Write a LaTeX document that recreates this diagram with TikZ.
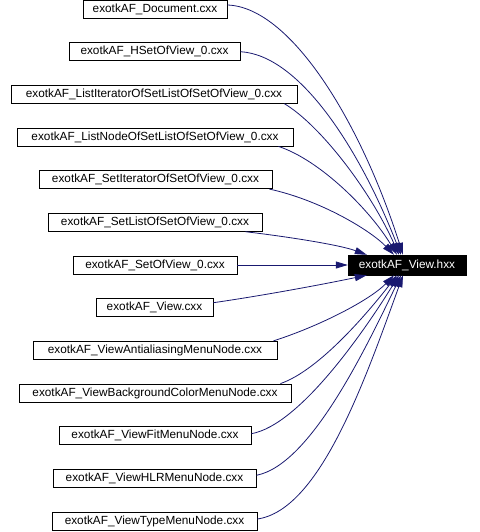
\documentclass[tikz,border=0pt]{standalone}
\usepackage{fontspec}
\setmainfont{Liberation Sans}
\usepackage{xcolor}
\usetikzlibrary{arrows.meta}

\definecolor{edgeblue}{RGB}{25,25,112}

\tikzset{
    file/.style={draw, rectangle, line width=0.8pt, minimum height=18, inner sep=0pt, font=\fontsize{11.8}{13}\selectfont},
    header/.style={draw=black, fill=black, text=white, rectangle, minimum width=118, minimum height=20, inner sep=0pt, font=\fontsize{11.8}{13}\selectfont},
    dep/.style={draw=edgeblue, line width=0.8pt, -{Triangle[length=12pt,width=7pt]}}
}

\begin{document}
\begin{tikzpicture}[x=1pt, y=-1pt]
    \useasboundingbox (0,0) rectangle (479,532);

    % Included header - positioned explicitly
    \node[header] (viewhxx) at (407,265) {exotkAF\_View.hxx};

    % Including files - one column on the left
    \node[file, minimum width=144] (doc) at (155,9) {exotkAF\_Document.cxx};
    \node[file, minimum width=171] (hset) at (154.5,51.7) {exotkAF\_HSetOfView\_0.cxx};
    \node[file, minimum width=286] (listiter) at (154,94.3) {exotkAF\_ListIteratorOfSetListOfSetOfView\_0.cxx};
    \node[file, minimum width=276] (listnode) at (155,137) {exotkAF\_ListNodeOfSetListOfSetOfView\_0.cxx};
    \node[file, minimum width=233] (setiter) at (155.5,179.7) {exotkAF\_SetIteratorOfSetOfView\_0.cxx};
    \node[file, minimum width=214] (setlist) at (155,222.3) {exotkAF\_SetListOfSetOfView\_0.cxx};
    \node[file, minimum width=164] (setofview) at (155,265) {exotkAF\_SetOfView\_0.cxx};
    \node[file, minimum width=117] (viewcxx) at (154.5,307.7) {exotkAF\_View.cxx};
    \node[file, minimum width=244] (antialias) at (155,350.3) {exotkAF\_ViewAntialiasingMenuNode.cxx};
    \node[file, minimum width=272] (bgcolor) at (155,393) {exotkAF\_ViewBackgroundColorMenuNode.cxx};
    \node[file, minimum width=192] (fitmenu) at (155,435.7) {exotkAF\_ViewFitMenuNode.cxx};
    \node[file, minimum width=203] (hlrmenu) at (154.5,478.3) {exotkAF\_ViewHLRMenuNode.cxx};
    \node[file, minimum width=205] (typemenu) at (154.5,521) {exotkAF\_ViewTypeMenuNode.cxx};

    % Edges above the header
    \draw[dep] ([yshift=4]doc.east) .. controls (290,7) and (360,120) .. ([xshift=-4]viewhxx.north);
    \draw[dep] (hset.east) .. controls (300,55) and (360,150) .. ([xshift=-6]viewhxx.north);
    \draw[dep] ([xshift=-13]listiter.south east) .. controls (320,125) and (370,190) .. ([xshift=-8]viewhxx.north);
    \draw[dep] ([xshift=-15]listnode.south east) .. controls (320,160) and (370,210) .. ([xshift=-10]viewhxx.north);
    \draw[dep] ([xshift=-3]setiter.south east) .. controls (320,200) and (370,230) .. ([xshift=-13]viewhxx.north);
    \draw[dep] ([xshift=-17]setlist.south east) .. controls (290,237) and (340,245) .. ([xshift=19]viewhxx.north west);

    % Straight edge
    \draw[dep] (setofview.east) -- (viewhxx.west);

    % Edges below the header
    \draw[dep] ([yshift=5]viewcxx.east) .. controls (260,296) and (320,285) .. ([xshift=19]viewhxx.south west);
    \draw[dep] ([xshift=-4]antialias.north east) .. controls (320,326) and (370,300) .. ([xshift=-13]viewhxx.south);
    \draw[dep] ([xshift=-11]bgcolor.north east) .. controls (320,370) and (370,310) .. ([xshift=-10]viewhxx.south);
    \draw[dep] ([yshift=2]fitmenu.east) .. controls (300,425) and (365,330) .. ([xshift=-8]viewhxx.south);
    \draw[dep] ([yshift=3]hlrmenu.east) .. controls (310,465) and (365,350) .. ([xshift=-6]viewhxx.south);
    \draw[dep] ([yshift=2]typemenu.east) .. controls (320,510) and (365,380) .. ([xshift=-4]viewhxx.south);
\end{tikzpicture}
\end{document}
